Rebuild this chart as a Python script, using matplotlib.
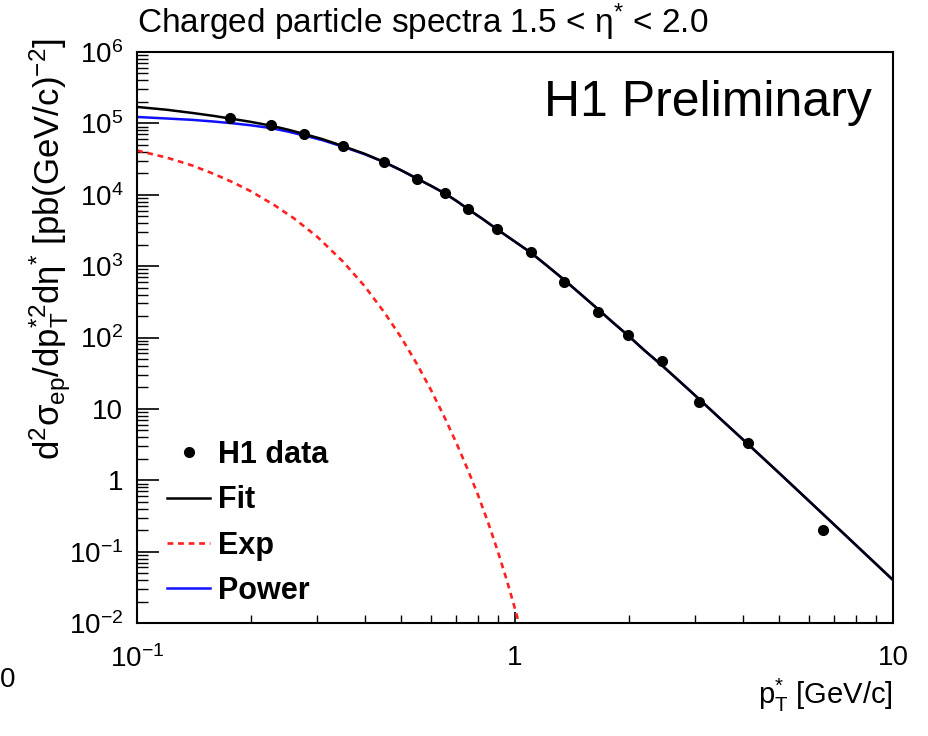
import matplotlib
matplotlib.use("Agg")
import matplotlib.pyplot as plt
import numpy as np
from matplotlib.ticker import FixedLocator, FuncFormatter, LogLocator, NullFormatter

plt.rcParams['font.family'] = ['Liberation Sans', 'DejaVu Sans']
plt.rcParams['mathtext.fontset'] = 'custom'
plt.rcParams['mathtext.rm'] = 'Liberation Sans'
plt.rcParams['mathtext.it'] = 'Liberation Sans:italic'
plt.rcParams['mathtext.bf'] = 'Liberation Sans:bold'
plt.rcParams['mathtext.default'] = 'regular'

# H1 data points
pt_data = [0.176, 0.226, 0.277, 0.351, 0.450, 0.551, 0.653, 0.751, 0.895,
           1.10, 1.35, 1.66, 1.99, 2.45, 3.07, 4.13, 6.53]
xs_data = [1.19e5, 9.5e4, 7.1e4, 4.8e4, 2.88e4, 1.66e4, 1.06e4, 6.3e3, 3.32e3,
           1.58e3, 601, 229, 109, 47, 12.5, 3.34, 0.20]

# fit curve
pt_fit = [0.1, 0.12, 0.14, 0.16, 0.18, 0.2, 0.226, 0.25, 0.277, 0.31, 0.351, 0.4,
          0.45, 0.5, 0.551, 0.6, 0.653, 0.7, 0.751, 0.82, 0.895, 1.0, 1.1, 1.2,
          1.35, 1.5, 1.66, 1.8, 1.99, 2.2, 2.45, 2.75, 3.07, 3.5, 4.13, 5.0, 6.0,
          7.5, 10.0]
xs_fit = [1.70e5, 1.55e5, 1.40e5, 1.27e5, 1.15e5, 1.05e5, 9.3e4, 8.2e4, 7.1e4, 6.0e4,
          4.8e4, 3.75e4, 2.88e4, 2.2e4, 1.68e4, 1.33e4, 1.04e4, 8.2e3, 6.3e3, 4.6e3,
          3.3e3, 2.2e3, 1.55e3, 1.07e3, 641, 395, 248, 169, 107, 66, 40.5, 23.3,
          13.7, 7.2, 3.22, 1.26, 0.51, 0.168, 0.040]

# power-law component
pt_pow = [0.1, 0.12, 0.14, 0.16, 0.18, 0.2, 0.226, 0.25, 0.277, 0.31, 0.351, 0.4,
          0.45, 0.5, 0.551, 0.6, 0.653, 0.7, 0.751, 0.82, 0.895, 1.0, 1.1, 1.2,
          1.35, 1.5, 1.66, 1.8, 1.99, 2.2, 2.45, 2.75, 3.07, 3.5, 4.13, 5.0, 6.0,
          7.5, 10.0]
xs_pow = [1.23e5, 1.17e5, 1.12e5, 1.06e5, 1.00e5, 9.4e4, 8.6e4, 7.7e4, 6.75e4, 5.8e4,
          4.7e4, 3.7e4, 2.87e4, 2.2e4, 1.68e4, 1.33e4, 1.04e4, 8.2e3, 6.3e3, 4.6e3,
          3.3e3, 2.2e3, 1.55e3, 1.07e3, 641, 395, 248, 169, 107, 66, 40.5, 23.3,
          13.7, 7.2, 3.22, 1.26, 0.51, 0.168, 0.040]

# exponential component
pt_exp = [0.1, 0.12, 0.14, 0.16, 0.18, 0.2, 0.23, 0.26, 0.3, 0.35, 0.4, 0.45,
          0.5, 0.55, 0.6, 0.65, 0.7, 0.75, 0.8, 0.85, 0.9, 0.95, 1.0, 1.03]
xs_exp = [4.17e4, 3.31e4, 2.57e4, 1.95e4, 1.48e4, 1.12e4, 7.24e3, 4.68e3, 2.57e3,
          1.17e3, 525, 229, 100, 42.7, 18.2, 7.76, 3.31, 1.41, 0.603, 0.251,
          0.102, 0.0407, 0.0158, 0.0089]

fig = plt.figure(figsize=(9.29, 7.36), dpi=100)
ax = fig.add_axes([137/929, 1-623/736, (893-137)/929, (623-52)/736])

ax.plot(pt_pow, xs_pow, color='#1010ff', lw=1.8, label='Power', zorder=2)
ax.plot(pt_exp, xs_exp, color='#ff2020', lw=1.9, ls=(0, (2.2, 1.8)), label='Exp', zorder=2)
ax.plot(pt_fit, xs_fit, color='black', lw=1.8, label='Fit', zorder=3)
ax.plot(pt_data, xs_data, 'o', color='black', ms=7, label='H1 data', zorder=4)

ax.set_xscale('log')
ax.set_yscale('log')
ax.set_xlim(0.1, 10)
ax.set_ylim(1e-2, 1e6)

def logfmt(v, pos):
    if np.isclose(v, 1):
        return '1'
    if np.isclose(v, 10):
        return '10'
    n = int(round(np.log10(v)))
    return r'$10^{%d}$' % n

ax.xaxis.set_major_locator(FixedLocator([0.1, 1, 10]))
ax.xaxis.set_minor_locator(LogLocator(base=10, subs=np.arange(2, 10), numticks=20))
ax.yaxis.set_major_locator(FixedLocator([10.0**k for k in range(-2, 7)]))
ax.yaxis.set_minor_locator(LogLocator(base=10, subs=np.arange(2, 10), numticks=20))
ax.xaxis.set_major_formatter(FuncFormatter(logfmt))
ax.yaxis.set_major_formatter(FuncFormatter(logfmt))
ax.xaxis.set_minor_formatter(NullFormatter())
ax.yaxis.set_minor_formatter(NullFormatter())

ax.tick_params(axis='y', which='major', direction='in', length=16, width=1.2, labelsize=20, pad=10)
ax.tick_params(axis='y', which='minor', direction='in', length=8, width=1.0)
ax.tick_params(axis='x', which='major', direction='in', length=8, width=1.2, labelsize=20, pad=16)
ax.tick_params(axis='x', which='minor', direction='in', length=6, width=1.0)
for s in ax.spines.values():
    s.set_linewidth(1.5)

fig.text(137/929, 1-22/736, r'Charged particle spectra 1.5 < η$^{*}$ < 2.0',
         fontsize=24, ha='left', va='center')
ax.text(0.972, 0.911, 'H1 Preliminary', transform=ax.transAxes,
        fontsize=36, ha='right', va='center')
fig.text(50/929, 1-38/736,
         r'd$^{2}$σ$_{ep}$/dp$^{*2}_{T}$dη$^{*}$ [pb(GeV/c)$^{-2}$]',
         rotation=90, fontsize=25, ha='center', va='top')
fig.text(893/929, 1-704/736, r'p$^{*}_{T}$ [GeV/c]', fontsize=21, ha='right', va='baseline')
fig.text(0, 1-680/736, '0', fontsize=20, ha='left', va='center')

handles, labels = ax.get_legend_handles_labels()
order = [3, 2, 1, 0]
ax.legend([handles[i] for i in order], [labels[i] for i in order],
          loc='lower left', bbox_to_anchor=(0.040, 0.03), frameon=False,
          borderpad=0, borderaxespad=0,
          prop={'weight': 'bold', 'size': 22}, handlelength=1.4,
          handletextpad=0.26, labelspacing=0.5)

fig.savefig('out.png', dpi=100)
